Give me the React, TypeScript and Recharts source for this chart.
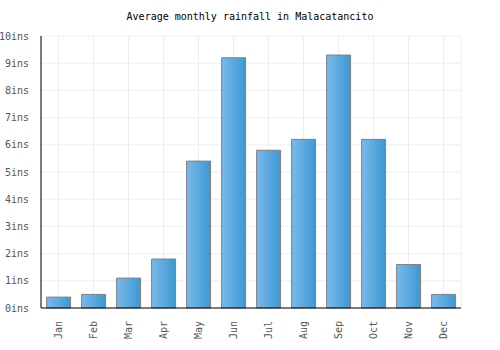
import { BarChart, Bar, XAxis, YAxis, CartesianGrid } from "recharts";

const months = ["Jan", "Feb", "Mar", "Apr", "May", "Jun", "Jul", "Aug", "Sep", "Oct", "Nov", "Dec"];
const rainfall = [0.4, 0.5, 1.1, 1.8, 5.4, 9.2, 5.8, 6.2, 9.3, 6.2, 1.6, 0.5];
const yTicks = [0, 1, 2, 3, 4, 5, 6, 7, 8, 9, 10];

const data = months.map((m, i) => ({ month: m, rain: rainfall[i] }));

const font = "'DejaVu Sans Mono', monospace";

const MonthTick = (props: any) => {
  const { x, y, payload } = props;
  return (
    <text
      x={x}
      y={y + 5}
      transform={`rotate(-90, ${x}, ${y + 5})`}
      textAnchor="end"
      dominantBaseline="central"
      fontSize={10}
      fontFamily={font}
      fill="#555"
    >
      {payload.value}
    </text>
  );
};

export default function App() {
  return (
    <div style={{ position: "absolute", left: 0, top: 0, width: 500, height: 350, background: "#fff" }}>
      <div
        style={{
          position: "absolute",
          top: 11,
          left: 0,
          width: 500,
          textAlign: "center",
          fontFamily: font,
          fontSize: 10,
          color: "#000",
        }}
      >
        Average monthly rainfall in Malacatancito
      </div>
      <BarChart
        width={500}
        height={350}
        data={data}
        margin={{ top: 36, right: 39, bottom: 0, left: 0 }}
        barCategoryGap="16%"
      >
        <defs>
          <linearGradient id="barGrad" x1="0" y1="0" x2="1" y2="0">
            <stop offset="0%" stopColor="#7bb9ea" />
            <stop offset="100%" stopColor="#3b99d2" />
          </linearGradient>
        </defs>
        <CartesianGrid stroke="#eeeeee" strokeWidth={1} />
        <XAxis
          dataKey="month"
          height={42}
          tick={<MonthTick />}
          tickLine={false}
          axisLine={{ stroke: "#000" }}
          interval={0}
        />
        <YAxis
          width={41}
          domain={[0, 10]}
          ticks={yTicks}
          tickFormatter={(v) => `${v}ins`}
          tick={{ fontSize: 10, fontFamily: font, fill: "#555" }}
          tickLine={false}
          axisLine={{ stroke: "#000" }}
          interval={0}
          tickMargin={6}
        />
        <Bar dataKey="rain" fill="url(#barGrad)" stroke="#808080" strokeWidth={1} isAnimationActive={false} />
      </BarChart>
    </div>
  );
}
